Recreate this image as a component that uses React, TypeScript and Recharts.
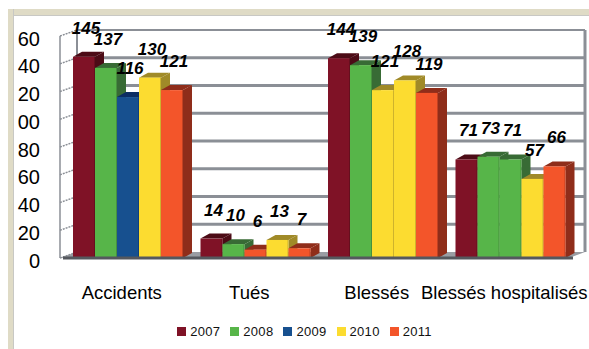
import { Bar, BarChart, CartesianGrid, Cell, LabelList, Legend, XAxis, YAxis } from "recharts";

const categories = ["Accidents", "Tués", "Blessés", "Blessés hospitalisés"];
const values2007 = [145, 14, 144, 71];
const values2008 = [137, 10, 139, 73];
const values2009 = [116, 6, 121, 71];
const values2010 = [130, 13, 128, 57];
const values2011 = [121, 7, 119, 66];
const yTicks = [0, 20, 40, 60, 80, 100, 120, 140, 160];
// the source picture cuts off the hundreds digit
const yTickLabels = ["0", "20", "40", "60", "80", "00", "20", "40", "60"];

const MAROON = "#7f1226";
const GREEN = "#57b549";
const BLUE = "#17508f";
const YELLOW = "#fcdc30";
const ORANGE = "#f3552a";
const thirdSeriesColors = [BLUE, ORANGE, YELLOW, GREEN];

const sideColor: Record<string, string> = {
  [MAROON]: "#4c0b16",
  [GREEN]: "#386b35",
  [BLUE]: "#0c2e63",
  [YELLOW]: "#a08a28",
  [ORANGE]: "#8f2d1a",
};

const data = categories.map((name, i) => ({
  name,
  y2007: values2007[i],
  y2008: values2008[i],
  y2009: values2009[i],
  y2010: values2010[i],
  y2011: values2011[i],
}));

const PLOT_LEFT = 63;
const PLOT_TOP = 36;
const PLOT_RIGHT = 573;
const PLOT_BOTTOM = 258;
const WALL_DX = 15;
const WALL_DY = 6;
const DEPTH_X = 9;
const DEPTH_Y = 5;

function Bar3D({ x, y, width, height, fill }: any) {
  const side = sideColor[fill] ?? fill;
  return (
    <g>
      <polygon
        points={`${x + width},${y} ${x + width + DEPTH_X},${y - DEPTH_Y} ${x + width + DEPTH_X},${y + height - DEPTH_Y} ${x + width},${y + height}`}
        fill={side}
      />
      <polygon
        points={`${x},${y} ${x + DEPTH_X},${y - DEPTH_Y} ${x + width + DEPTH_X},${y - DEPTH_Y} ${x + width},${y}`}
        fill={side}
      />
      <rect x={x} y={y} width={width} height={height} fill={fill} />
      <rect x={x + width - 1} y={y} width={1} height={height} fill={side} opacity={0.5} />
    </g>
  );
}

// gridlines sit on the back wall, shifted up and right of the front scale
function WallLine({ x1, y1, index }: any) {
  const backY = y1 - WALL_DY;
  const backLeft = x1 + WALL_DX - 1;
  const backRight = PLOT_RIGHT + 12;
  const isFloor = y1 === PLOT_BOTTOM;
  const isTop = y1 === PLOT_TOP;
  return (
    <g key={index}>
      {isTop && (
        <g>
          <line x1={backLeft} y1={backY} x2={backLeft} y2={PLOT_BOTTOM - WALL_DY} stroke="#8b8f96" strokeWidth={2} />
          <line x1={x1 - 3} y1={y1} x2={x1 - 3} y2={PLOT_BOTTOM} stroke="#8b8f96" strokeWidth={1.5} />
          <line x1={backRight} y1={backY} x2={backRight} y2={PLOT_BOTTOM - WALL_DY} stroke="#8b8f96" strokeWidth={3} />
        </g>
      )}
      {isFloor ? (
        <polygon
          points={`${x1 - 3},${y1} ${backLeft},${backY} ${backRight},${backY} ${PLOT_RIGHT - 4},${y1}`}
          fill="#9a9da3"
        />
      ) : (
        <line x1={backLeft} y1={backY} x2={backRight} y2={backY} stroke="#8b8f96" strokeWidth={isTop ? 2 : 3} />
      )}
      <line x1={x1 - 3} y1={y1} x2={backLeft} y2={backY} stroke="#8b8f96" strokeWidth={1.5} strokeDasharray="2 1" />
    </g>
  );
}

const labelStyle = { fontFamily: "Liberation Sans", fontSize: 17, fontWeight: 700, fontStyle: "italic", fill: "#000" };

function seriesLabels(key: string) {
  return <LabelList dataKey={key} position="top" offset={23} dx={2} style={labelStyle} />;
}

export default function App() {
  return (
    <div style={{ position: "absolute", left: 0, top: 0, width: 589, height: 349, overflow: "hidden", background: "#fff" }}>
      <div style={{ position: "absolute", left: 8, top: 9, right: 0, height: 6, background: "#dfdbc6", borderBottom: "1px solid #c8c8c4" }} />
      <div style={{ position: "absolute", left: 8, top: 9, bottom: 0, width: 5, background: "#dfdbc6", borderRight: "1px solid #c8c8c4" }} />
      <BarChart
        width={589}
        height={349}
        data={data}
        barGap={0}
        barCategoryGap={10}
        margin={{ top: PLOT_TOP, right: 589 - PLOT_RIGHT, bottom: 0, left: 0 }}
        style={{ position: "absolute", left: 0, top: 0, fontFamily: "Liberation Sans" }}
      >
        <CartesianGrid vertical={false} horizontal={(p: any) => <WallLine {...p} />} />
        <XAxis
          dataKey="name"
          height={67}
          interval={0}
          tickLine={false}
          tickMargin={22}
          axisLine={{ stroke: "#55585e", strokeWidth: 3 }}
          tick={{ fill: "#000", fontSize: 18.5, dx: -5 }}
        />
        <YAxis
          width={PLOT_LEFT}
          domain={[0, 160]}
          ticks={yTicks}
          interval={0}
          tickLine={false}
          axisLine={false}
          tickMargin={17}
          tickFormatter={(_v: number, i: number) => yTickLabels[i]}
          tick={{ fill: "#000", fontSize: 20, dy: 2.5 }}
        />
        <Legend
          iconType="square"
          iconSize={9}
          height={24}
          formatter={(value: string) => <span style={{ color: "#111", fontSize: 13, letterSpacing: 0.3 }}>{value}</span>}
          wrapperStyle={{ left: 15, width: 589, bottom: 3 }}
        />
        <Bar dataKey="y2007" name="2007" fill={MAROON} shape={<Bar3D />} isAnimationActive={false}>
          {seriesLabels("y2007")}
        </Bar>
        <Bar dataKey="y2008" name="2008" fill={GREEN} shape={<Bar3D />} isAnimationActive={false}>
          {seriesLabels("y2008")}
        </Bar>
        <Bar dataKey="y2009" name="2009" fill={BLUE} shape={<Bar3D />} isAnimationActive={false}>
          {thirdSeriesColors.map((color) => (
            <Cell key={color} fill={color} />
          ))}
          {seriesLabels("y2009")}
        </Bar>
        <Bar dataKey="y2010" name="2010" fill={YELLOW} shape={<Bar3D />} isAnimationActive={false}>
          {seriesLabels("y2010")}
        </Bar>
        <Bar dataKey="y2011" name="2011" fill={ORANGE} shape={<Bar3D />} isAnimationActive={false}>
          {seriesLabels("y2011")}
        </Bar>
      </BarChart>
    </div>
  );
}
